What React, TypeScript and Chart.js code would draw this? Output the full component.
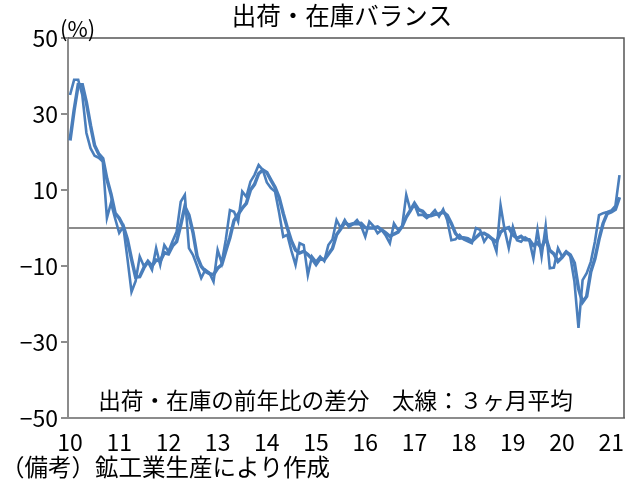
import { useEffect, useRef } from "react";
import { Chart, registerables } from "chart.js";

Chart.register(...registerables);

// Year labels shown on the x axis (Jan of each year)
const yearLabels = ["10", "11", "12", "13", "14", "15", "16", "17", "18", "19", "20", "21"];
const yearTickIndex = [0, 12, 24, 36, 48, 60, 72, 84, 96, 108, 120, 132];
const yTicks = [-50, -30, -10, 10, 30, 50];

// Monthly difference (Jan 2010 - Mar 2021)
const monthly = [
  35, 39, 39, 35, 25, 21, 19, 18.5, 17.5, 2.6, 6.6, 2.5,
  -1.3, 0.3, -8, -16.8, -14, -7.5, -10, -8.9, -11, -5.3, -9.7, -4.5,
  -6.2, -3.5, -1, 6.9, 8.7, -5.3, -7.1, -10, -13.2, -11, -11.8, -14.1,
  -5.8, -9.2, -3, 4.7, 4.3, 1.7, 9.6, 8.2, 12.2, 14, 16.6, 15.3,
  12, 10.5, 9.6, 4, -2.3, -1.8, -6, -9.7, -4, -4.5, -12.4, -7.5,
  -8.9, -7.5, -8.7, -4.5, -3, 2.1, 0, 2.1, 0.3, 1, 2.1, 0.5,
  -2.3, 1.7, 0.5, -1.4, -0.5, -2, -4, 1.2, -0.5, 0.5, 8.7, 4.7,
  6.2, 3.4, 3.5, 2.6, 3.5, 4.7, 3, 4.9, 2, -3.2, -3, -1.8,
  -3, -3.5, -4, 0, -0.5, -3.6, -2, -3, -6.2, 6, -0.5, -5.3,
  0.3, -3.2, -3.6, -2.5, -3.2, -8, -0.5, -7.5, 0.5, -10.6, -10.4, -5.3,
  -7.5, -6.2, -7.5, -14, -26.3, -13.7, -11.9, -8.9, -3.6, 3.4, 3.9, 4.2,
  4.6, 5.8, 13.9,
];

// 3-month average (thick line)
const avg3 = [
  23, 31, 37.7, 37.7, 33, 27, 21.7, 19.5, 18.3, 12.9, 8.9, 3.9,
  2.6, 0.5, -3, -8.2, -12.9, -12.8, -10.5, -8.8, -10, -8.4, -8.7, -6.5,
  -6.8, -4.7, -3.6, 0.8, 5.6, 3.4, -1.2, -7.5, -10.1, -11.4, -12, -12.3,
  -10.6, -9.7, -6, -2.5, 2, 3.6, 5.2, 6.5, 10, 11.5, 14.3, 15.3,
  14.6, 12.6, 10.7, 8, 3.8, 0, -3.4, -5.8, -6.6, -6.1, -7, -8.1,
  -9.6, -8, -8.4, -6.9, -5.4, -1.8, -0.3, 1.4, 0.8, 1.1, 1.1, 1.2,
  0.1, 0, 0, 0.3, -0.5, -1.3, -2.2, -1.6, -1.1, 0.4, 2.9, 4.6,
  6.5, 4.8, 4.4, 3.2, 3.2, 3.6, 3.7, 4.2, 3.3, 1.2, -1.4, -2.7,
  -2.6, -2.8, -3.5, -2.5, -1.5, -1.4, -2, -2.9, -3.7, -1.1, -0.2, 0.1,
  -1.8, -2.7, -2.2, -3.1, -3.1, -4.6, -3.9, -5.3, -2.5, -5.9, -6.8, -8.8,
  -7.7, -6.3, -7.1, -9.2, -15.9, -19.5, -18, -11.5, -8.1, -3, 1.2, 3.8,
  4.2, 4.9, 8.1,
];

const titleText = "出荷・在庫バランス";
const unitText = "(%)";
const noteText = "出荷・在庫の前年比の差分　太線：３ヶ月平均";
const sourceText = "（備考）鉱工業生産により作成";

const JP_FONT = '"Noto Sans CJK JP", "Noto Sans", sans-serif';
const NUM_FONT = '"Liberation Sans Narrow", "Noto Sans CJK JP", sans-serif';
const LINE_COLOR = "#4a7ebb";

const overlayPlugin = {
  id: "overlay",
  beforeDatasetsDraw(chart: any) {
    const { ctx, chartArea, scales } = chart;
    const y0 = scales.y.getPixelForValue(0);
    ctx.save();
    ctx.strokeStyle = "#8c8c8c";
    ctx.lineWidth = 2;
    ctx.beginPath();
    ctx.moveTo(chartArea.left, y0);
    ctx.lineTo(chartArea.right, y0);
    ctx.stroke();
    ctx.restore();
  },
  afterDraw(chart: any) {
    const { ctx, chartArea } = chart;
    ctx.save();
    // top and right border of plot area
    ctx.strokeStyle = "#555555";
    ctx.lineWidth = 1.5;
    ctx.beginPath();
    ctx.moveTo(chartArea.left, chartArea.top);
    ctx.lineTo(chartArea.right, chartArea.top);
    ctx.lineTo(chartArea.right, chartArea.bottom);
    ctx.stroke();

    ctx.fillStyle = "#000";
    ctx.textBaseline = "middle";
    ctx.textAlign = "center";
    ctx.font = `24.5px ${JP_FONT}`;
    ctx.fillText(titleText, 342, 16);

    ctx.font = `22.6px ${JP_FONT}`;
    ctx.fillText(noteText, 335.5, 400);

    ctx.textAlign = "left";
    ctx.font = `22px ${JP_FONT}`;
    ctx.fillText(unitText, 60, 29);

    ctx.font = `23.5px ${JP_FONT}`;
    ctx.fillText(sourceText, 1, 467);
    ctx.restore();
  },
};

export default function App() {
  const canvasRef = useRef<HTMLCanvasElement | null>(null);

  useEffect(() => {
    if (!canvasRef.current) return;
    const chart = new Chart(canvasRef.current, {
      type: "line",
      data: {
        datasets: [
          {
            label: "月次",
            data: monthly.map((v, i) => ({ x: i, y: v })),
            borderColor: LINE_COLOR,
            borderWidth: 2.6,
            pointRadius: 0,
            tension: 0,
            fill: false,
          },
          {
            label: "3ヶ月平均",
            data: avg3.map((v, i) => ({ x: i, y: v })),
            borderColor: LINE_COLOR,
            borderWidth: 3.5,
            pointRadius: 0,
            tension: 0,
            fill: false,
          },
        ],
      },
      options: {
        responsive: false,
        animation: false,
        events: [],
        layout: { padding: { top: 38, right: 16, left: 0, bottom: 0 } },
        plugins: {
          legend: { display: false },
          tooltip: { enabled: false },
          title: { display: false },
        },
        scales: {
          x: {
            type: "linear",
            min: -0.49,
            max: 135.1,
            afterBuildTicks: (axis: any) => {
              axis.ticks = yearTickIndex.map((v) => ({ value: v }));
            },
            afterFit: (scale: any) => {
              scale.height = 68;
            },
            grid: { display: false, drawTicks: false },
            border: { display: true, color: "#8c8c8c", width: 2 },
            ticks: {
              autoSkip: false,
              maxRotation: 0,
              padding: 10,
              color: "#000",
              font: { family: NUM_FONT, size: 23 },
              callback: (v: any) => {
                const k = yearTickIndex.indexOf(Number(v));
                return k >= 0 ? yearLabels[k] : "";
              },
            },
          },
          y: {
            type: "linear",
            min: -50,
            max: 50,
            afterBuildTicks: (axis: any) => {
              axis.ticks = yTicks.map((v) => ({ value: v }));
            },
            afterFit: (scale: any) => {
              scale.width = 68;
            },
            grid: {
              drawOnChartArea: false,
              drawTicks: true,
              tickLength: 7,
              color: "#8c8c8c",
              lineWidth: 2,
            },
            border: { display: true, color: "#8c8c8c", width: 2 },
            ticks: {
              padding: 3,
              color: "#000",
              font: { family: NUM_FONT, size: 23 },
              callback: (v: any) => (Number(v) < 0 ? "−" + Math.abs(Number(v)) : String(v)),
            },
          },
        },
      },
      plugins: [overlayPlugin],
    });
    return () => chart.destroy();
  }, []);

  return (
    <div style={{ position: "absolute", left: 0, top: 0, width: 640, height: 486, background: "#fff" }}>
      <canvas ref={canvasRef} width={640} height={486} />
    </div>
  );
}
